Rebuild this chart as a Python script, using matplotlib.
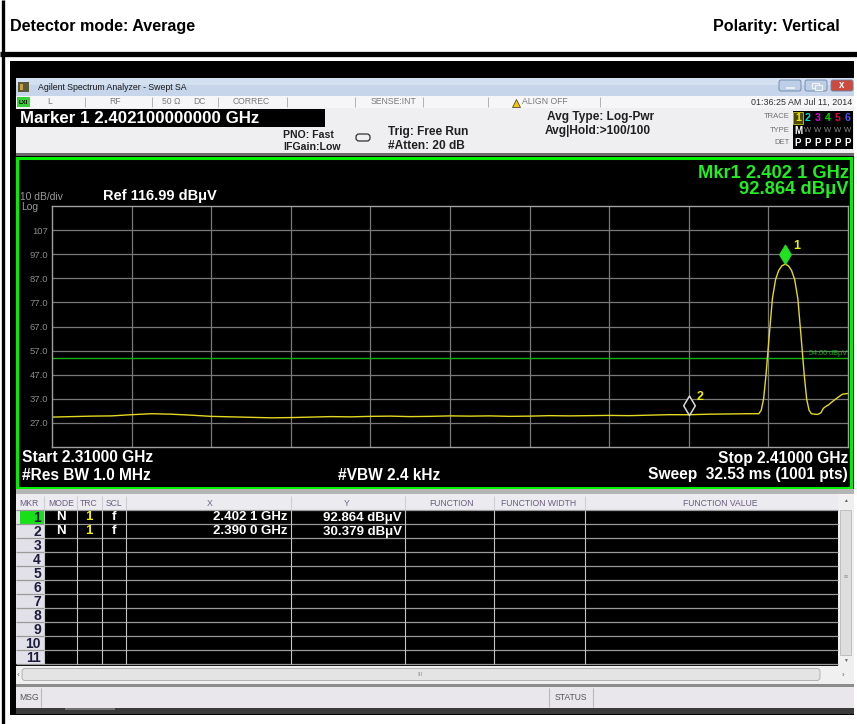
import numpy as np
import matplotlib
matplotlib.use("Agg")
import matplotlib.pyplot as plt
from matplotlib.patches import Rectangle, FancyBboxPatch
from matplotlib.path import Path
from matplotlib import font_manager

W, H = 857, 724

# trace: frequency in GHz, level in dBuV
floor_freq = [2.3100, 2.3125, 2.3150, 2.3175, 2.3200, 2.3225, 2.3250, 2.3275,
              2.3300, 2.3325, 2.3350, 2.3375, 2.3400, 2.3425, 2.3450, 2.3475,
              2.3500, 2.3525, 2.3550, 2.3575, 2.3600, 2.3625, 2.3650, 2.3675,
              2.3700, 2.3725, 2.3750, 2.3775, 2.3800, 2.3825, 2.3850, 2.3875,
              2.3900, 2.3925, 2.3950, 2.3975]
floor_level = [29.4, 29.6, 29.8, 29.9, 30.4, 30.8, 30.6, 30.2,
               29.7, 29.5, 29.3, 29.1, 29.2, 29.4, 29.6, 29.5,
               29.7, 29.8, 29.6, 29.7, 29.9, 29.8, 29.9, 29.7,
               29.8, 30.0, 29.9, 30.0, 30.1, 30.0, 30.2, 30.4,
               30.38, 30.6, 30.7, 30.8]
peak_freq = [2.3988, 2.3991, 2.3994, 2.3997, 2.4001, 2.4005, 2.4009, 2.4013,
             2.4017, 2.4021, 2.4025, 2.4029, 2.4033, 2.4037, 2.4041, 2.4045,
             2.4048, 2.4051, 2.4054, 2.4058, 2.4062, 2.4066, 2.4069, 2.4072,
             2.4076, 2.4081, 2.4087, 2.4093, 2.4100]
peak_level = [30.8, 32.3, 37.0, 47.0, 63.0, 78.5, 86.5, 90.3,
              92.2, 92.864, 92.2, 90.3, 86.5, 78.5, 63.0, 47.0,
              37.0, 32.3, 30.8, 30.6, 30.5, 31.2, 33.0, 33.8,
              34.6, 36.0, 37.5, 38.9, 39.2]

mkr_freq = [2.4021, 2.3900]
mkr_level = [92.864, 30.379]
mkr_names = ["1", "2"]

ref_level = 116.99
db_per_div = 10
f_start, f_stop = 2.31, 2.41
display_line = 54.00
ytick_labels = ["107", "97.0", "87.0", "77.0", "67.0", "57.0", "47.0", "37.0", "27.0"]

table_head = ["MKR", "MODE", "TRC", "SCL", "X", "Y", "FUNCTION", "FUNCTION WIDTH", "FUNCTION VALUE"]
table_mode = ["N", "N"]
table_trc = ["1", "1"]
table_scl = ["f", "f"]
table_x = ["2.402 1 GHz", "2.390 0 GHz"]
table_y = ["92.864 dBμV", "30.379 dBμV"]
n_rows = 11

SANS = ['Liberation Sans', 'DejaVu Sans']
plt.rcParams['font.family'] = SANS
names = {f.name for f in font_manager.fontManager.ttflist}
NARROW = ['Liberation Sans Narrow'] + SANS if 'Liberation Sans Narrow' in names else None

fig = plt.figure(figsize=(W / 100, H / 100), dpi=100)
bg = fig.add_axes([0, 0, 1, 1])
bg.set_xlim(0, W)
bg.set_ylim(H, 0)
bg.axis('off')


def box(x0, y0, x1, y1, color, **kw):
    bg.add_patch(Rectangle((x0, y0), x1 - x0, y1 - y0, facecolor=color,
                           edgecolor=kw.pop('edgecolor', 'none'), **kw))


def txt(x, y, s, size, color='black', ha='left', va='center', weight='normal', family=None):
    bg.text(x, y, s, fontsize=size, color=color, ha=ha, va=va,
            fontweight=weight, family=family or SANS)


def vline(x, y0, y1, color, lw=0.8):
    bg.plot([x, x], [y0, y1], color=color, lw=lw, solid_capstyle='butt')


def hline(y, x0, x1, color, lw=0.8):
    bg.plot([x0, x1], [y, y], color=color, lw=lw, solid_capstyle='butt')


# page heading
vline(3, 0, H, 'black', lw=2.4)
hline(54, 0, W, 'black', lw=3.8)
if NARROW:
    txt(10, 31, "Detector mode: Average", 14, weight='bold', va='baseline', family=NARROW)
    txt(840, 31, "Polarity: Vertical", 14, weight='bold', va='baseline', ha='right', family=NARROW)
else:
    txt(10, 31, "Detector mode: Average", 11.6, weight='bold', va='baseline')
    txt(840, 31, "Polarity: Vertical", 11.6, weight='bold', va='baseline', ha='right')

R = 854  # right edge of the screenshot
box(10, 61, R, 715, 'black')
box(R, 78, W, 715, 'white')

# window title bar
box(16, 78, R, 96, '#c6d5e9')
box(16, 78, R, 85, '#d3e0f0')
box(18, 82, 29, 92, '#5a5a3a')
box(20, 84, 23, 90, '#c8a040')
txt(38, 87, "Agilent Spectrum Analyzer - Swept SA", 6.3, color='#1a1a1a')
for x0, fc in [(779, '#bccfe6'), (805, '#bccfe6'), (831, '#cc4a3e')]:
    bg.add_patch(FancyBboxPatch((x0, 80), 22, 11, boxstyle='round,pad=0,rounding_size=2',
                                facecolor=fc, edgecolor='#6a82a4', lw=0.6))
hline(88, 786, 795, '#f4f4f4', lw=1.2)
box(812, 83, 819, 88, 'none', edgecolor='#f4f4f4', lw=0.8)
box(815, 85, 822, 90, '#bccfe6', edgecolor='#f4f4f4', lw=0.8)
txt(842, 85.5, "x", 7, color='white', ha='center', weight='bold')

# status row
box(16, 96, R, 108, '#f6f6f8')
for x in [85, 152, 218, 287, 355, 423, 488, 600]:
    vline(x, 97, 107, '#a8a8a8', lw=0.6)
box(17, 97, 30, 107, '#38d038')
txt(23.5, 102, "LXI", 4.3, color='black', ha='center', weight='bold')
for x, s in [(50, "L"), (115, "RF"), (171, "50 Ω"), (199, "DC"), (251, "CORREC"), (394, "SENSE:INT")]:
    txt(x, 102, s, 6.2, color='#7a7a7a', ha='center')
bg.plot(516, 102.5, marker='^', ms=6, mfc='#f2c800', mec='#303030', mew=0.5)
txt(522, 102, "ALIGN OFF", 6.2, color='#7a7a7a')
txt(852, 102, "01:36:25 AM Jul 11, 2014", 6.4, color='#303030', ha='right')

# settings area
box(16, 108, R, 153, '#efeff1')
box(16, 109, 325, 127, 'black')
txt(20, 118.5, "Marker 1 2.402100000000 GHz", 12.2, color='white', weight='bold')
txt(283, 135, "PNO: Fast", 7.6, color='#202020', weight='bold')
txt(283, 147, "IFGain:Low", 7.6, color='#202020', weight='bold')
bg.add_patch(FancyBboxPatch((356, 134), 14, 7, boxstyle='round,pad=0,rounding_size=3',
                            facecolor='none', edgecolor='#303030', lw=0.9))
txt(388, 132, "Trig: Free Run", 8.6, color='#202020', weight='bold')
txt(388, 146, "#Atten: 20 dB", 8.6, color='#202020', weight='bold')
txt(547, 117, "Avg Type: Log-Pwr", 8.6, color='#202020', weight='bold')
txt(545, 131, "Avg|Hold:>100/100", 8.6, color='#202020', weight='bold')
for y, s in [(117, "TRACE"), (130, "TYPE"), (142, "DET")]:
    txt(790, y, s, 5.5, color='#707070', ha='right')
box(793, 111, 853, 149, 'black')
box(793, 112, 803, 124, '#4a4a00', edgecolor='#c8c800', lw=0.6)
trace_colors = ['#f0f000', '#00d8d8', '#e000e0', '#00d800', '#e00050', '#5050ff']
for i, c in enumerate(trace_colors):
    x = 798 + 10 * i
    txt(x, 118, str(i + 1), 7.6, color=c, ha='center', weight='bold')
    txt(x, 142.5, "P", 7, color='white', ha='center', weight='bold')
    if i == 0:
        txt(x, 130.5, "M", 7, color='white', ha='center', weight='bold')
    else:
        txt(x, 130.5, "W", 5.5, color='#8a8a8a', ha='center')

# trace window
box(16, 153, R, 156, '#6a6a6a')
box(16, 156, R, 489, 'black')
bg.add_patch(Rectangle((17.5, 157.5), 851 - 17.5, 487.5 - 157.5, facecolor='none',
                       edgecolor='#00f000', lw=2.2))
txt(20, 197, "10 dB/div", 7.4, color='#9a9a9a')
txt(21, 207, "Log", 7.4, color='#9a9a9a')
txt(103, 196, "Ref 116.99 dBμV", 10.5, color='white', weight='bold')
txt(849, 173, "Mkr1 2.402 1 GHz", 13.2, color='#20f020', ha='right', weight='bold')
txt(849, 189, "92.864 dBμV", 13.2, color='#20f020', ha='right', weight='bold')
txt(22, 458, "Start 2.31000 GHz", 11.2, color='white', weight='bold')
txt(22, 475, "#Res BW 1.0 MHz", 11.2, color='white', weight='bold')
txt(338, 475, "#VBW 2.4 kHz", 11.2, color='white', weight='bold')
txt(848, 458, "Stop 2.41000 GHz", 11.2, color='white', weight='bold', ha='right')
txt(848, 475, "Sweep  32.53 ms (1001 pts)", 11.2, color='white', weight='bold', ha='right')

# graticule
gx0, gx1, gy0, gy1 = 52, 848, 206, 447
ax = fig.add_axes([gx0 / W, 1 - gy1 / H, (gx1 - gx0) / W, (gy1 - gy0) / H])
ax.set_facecolor('black')
ax.set_xlim(f_start, f_stop)
ax.set_ylim(ref_level - 10 * db_per_div, ref_level)
ax.set_xticks(np.linspace(f_start, f_stop, 11)[1:-1])
ax.set_yticks([ref_level - db_per_div * (k + 1) for k in range(len(ytick_labels))])
ax.set_yticklabels(ytick_labels)
ax.tick_params(length=0, labelbottom=False, labelsize=6.8, labelcolor='#8c8c8c', pad=3)
ax.grid(True, color='#787878', lw=0.9)
ax.set_axisbelow(True)
for sp in ax.spines.values():
    sp.set_color('#a0a0a0')
    sp.set_linewidth(1.0)

ax.axhline(display_line, color='#12b012', lw=1.0)
ax.text(f_stop - 0.0001, display_line + 0.4, "54.00 dBμV", fontsize=5.2, color='#18b018',
        ha='right', va='bottom')

trace_freq = floor_freq + peak_freq
trace_level = floor_level + peak_level
ax.plot(trace_freq, trace_level, color='#e4d820', lw=1.0)

diamond = Path([(0, 0), (-0.6, 1), (0, 2), (0.6, 1), (0, 0)],
               [Path.MOVETO, Path.LINETO, Path.LINETO, Path.LINETO, Path.CLOSEPOLY])
ax.plot(mkr_freq[0], mkr_level[0], marker=diamond, ms=28, mfc='#22e022', mec='#22e022', mew=0.8)
ax.plot(mkr_freq[1], mkr_level[1], marker=diamond, ms=28, mfc='black', mec='#d8d8d8', mew=1.1)
for f, lv, n in zip(mkr_freq, mkr_level, mkr_names):
    ax.annotate(n, (f, lv), xytext=(5.5, 13), textcoords='offset points', fontsize=9,
                color='#f0f000', weight='bold', ha='left', va='center')

# marker table
box(16, 489, R, 494, '#b4b4b4')
box(16, 494, 838, 510, '#ecebf0')
col_edges = [44, 77, 102, 126, 291, 405, 494, 585]
head_x = [29, 61, 89, 114, 210, 347, 452, 539, 720]
for x, s in zip(head_x, table_head):
    txt(x, 503, s, 6.2, color='#6b5d80', ha='center')
for x in col_edges:
    vline(x, 496, 509, '#cfcfd6', lw=0.8)
row_h = 14
t0 = 510
box(44, t0, 838, t0 + row_h * n_rows, 'black')
box(16, t0, 44, t0 + row_h * n_rows, '#e2e0e8')
box(20, t0 + 1, 44, t0 + row_h, '#18e018')
for k in range(n_rows + 1):
    hline(t0 + row_h * k, 16, 838, '#9a9a9a', lw=0.9)
for x in col_edges:
    vline(x, t0, t0 + row_h * n_rows, '#c4c4c4', lw=0.8)
for k in range(n_rows):
    txt(41, t0 + row_h * k + 7.5, str(k + 1), 10, color='#1c1c3c', ha='right', weight='bold')
for k in range(len(table_x)):
    y = t0 + row_h * k + 7.5
    txt(61, y, table_mode[k], 9.5, color='white', ha='center', weight='bold')
    txt(89, y, table_trc[k], 9.5, color='#f0f000', ha='center', weight='bold')
    txt(114, y, table_scl[k], 9.5, color='white', ha='center', weight='bold')
    txt(288, y, table_x[k], 9.5, color='white', ha='right', weight='bold')
    txt(402, y, table_y[k], 9.5, color='white', ha='right', weight='bold')

# scroll bars
box(838, 494, R, 666, '#f0f0f0')
box(840, 510, 851, 655, '#dedede', edgecolor='#b0b0b0', lw=0.5)
txt(845.5, 501, "▲", 3.5, color='#606060', ha='center')
txt(845.5, 660, "▼", 3.5, color='#606060', ha='center')
txt(845.5, 578, "≡", 5, color='#909090', ha='center')
box(16, 666, R, 684, '#f0f0f0')
bg.add_patch(FancyBboxPatch((22, 668.5), 798, 12, boxstyle='round,pad=0,rounding_size=3',
                            facecolor='#e4e4e4', edgecolor='#a8a8a8', lw=0.6))
txt(420, 675, "III", 4.5, color='#909090', ha='center')
txt(18, 675, "‹", 6, color='#606060', ha='center')
txt(843, 675, "›", 6, color='#606060', ha='center')

# message bar
box(16, 684, R, 687, '#8c8c8c')
box(16, 687, R, 708, '#e9e7ec')
for x in [41, 549, 593]:
    vline(x, 688, 707, '#b8b8c0', lw=0.8)
txt(19, 697.5, "MSG", 6.2, color='#555555')
txt(571, 697.5, "STATUS", 6.2, color='#555555', ha='center')
box(16, 708, R, 714, '#3a3a3a')
box(65, 708, 115, 710, '#707070')

fig.savefig('out.png', dpi=100, facecolor='white')
